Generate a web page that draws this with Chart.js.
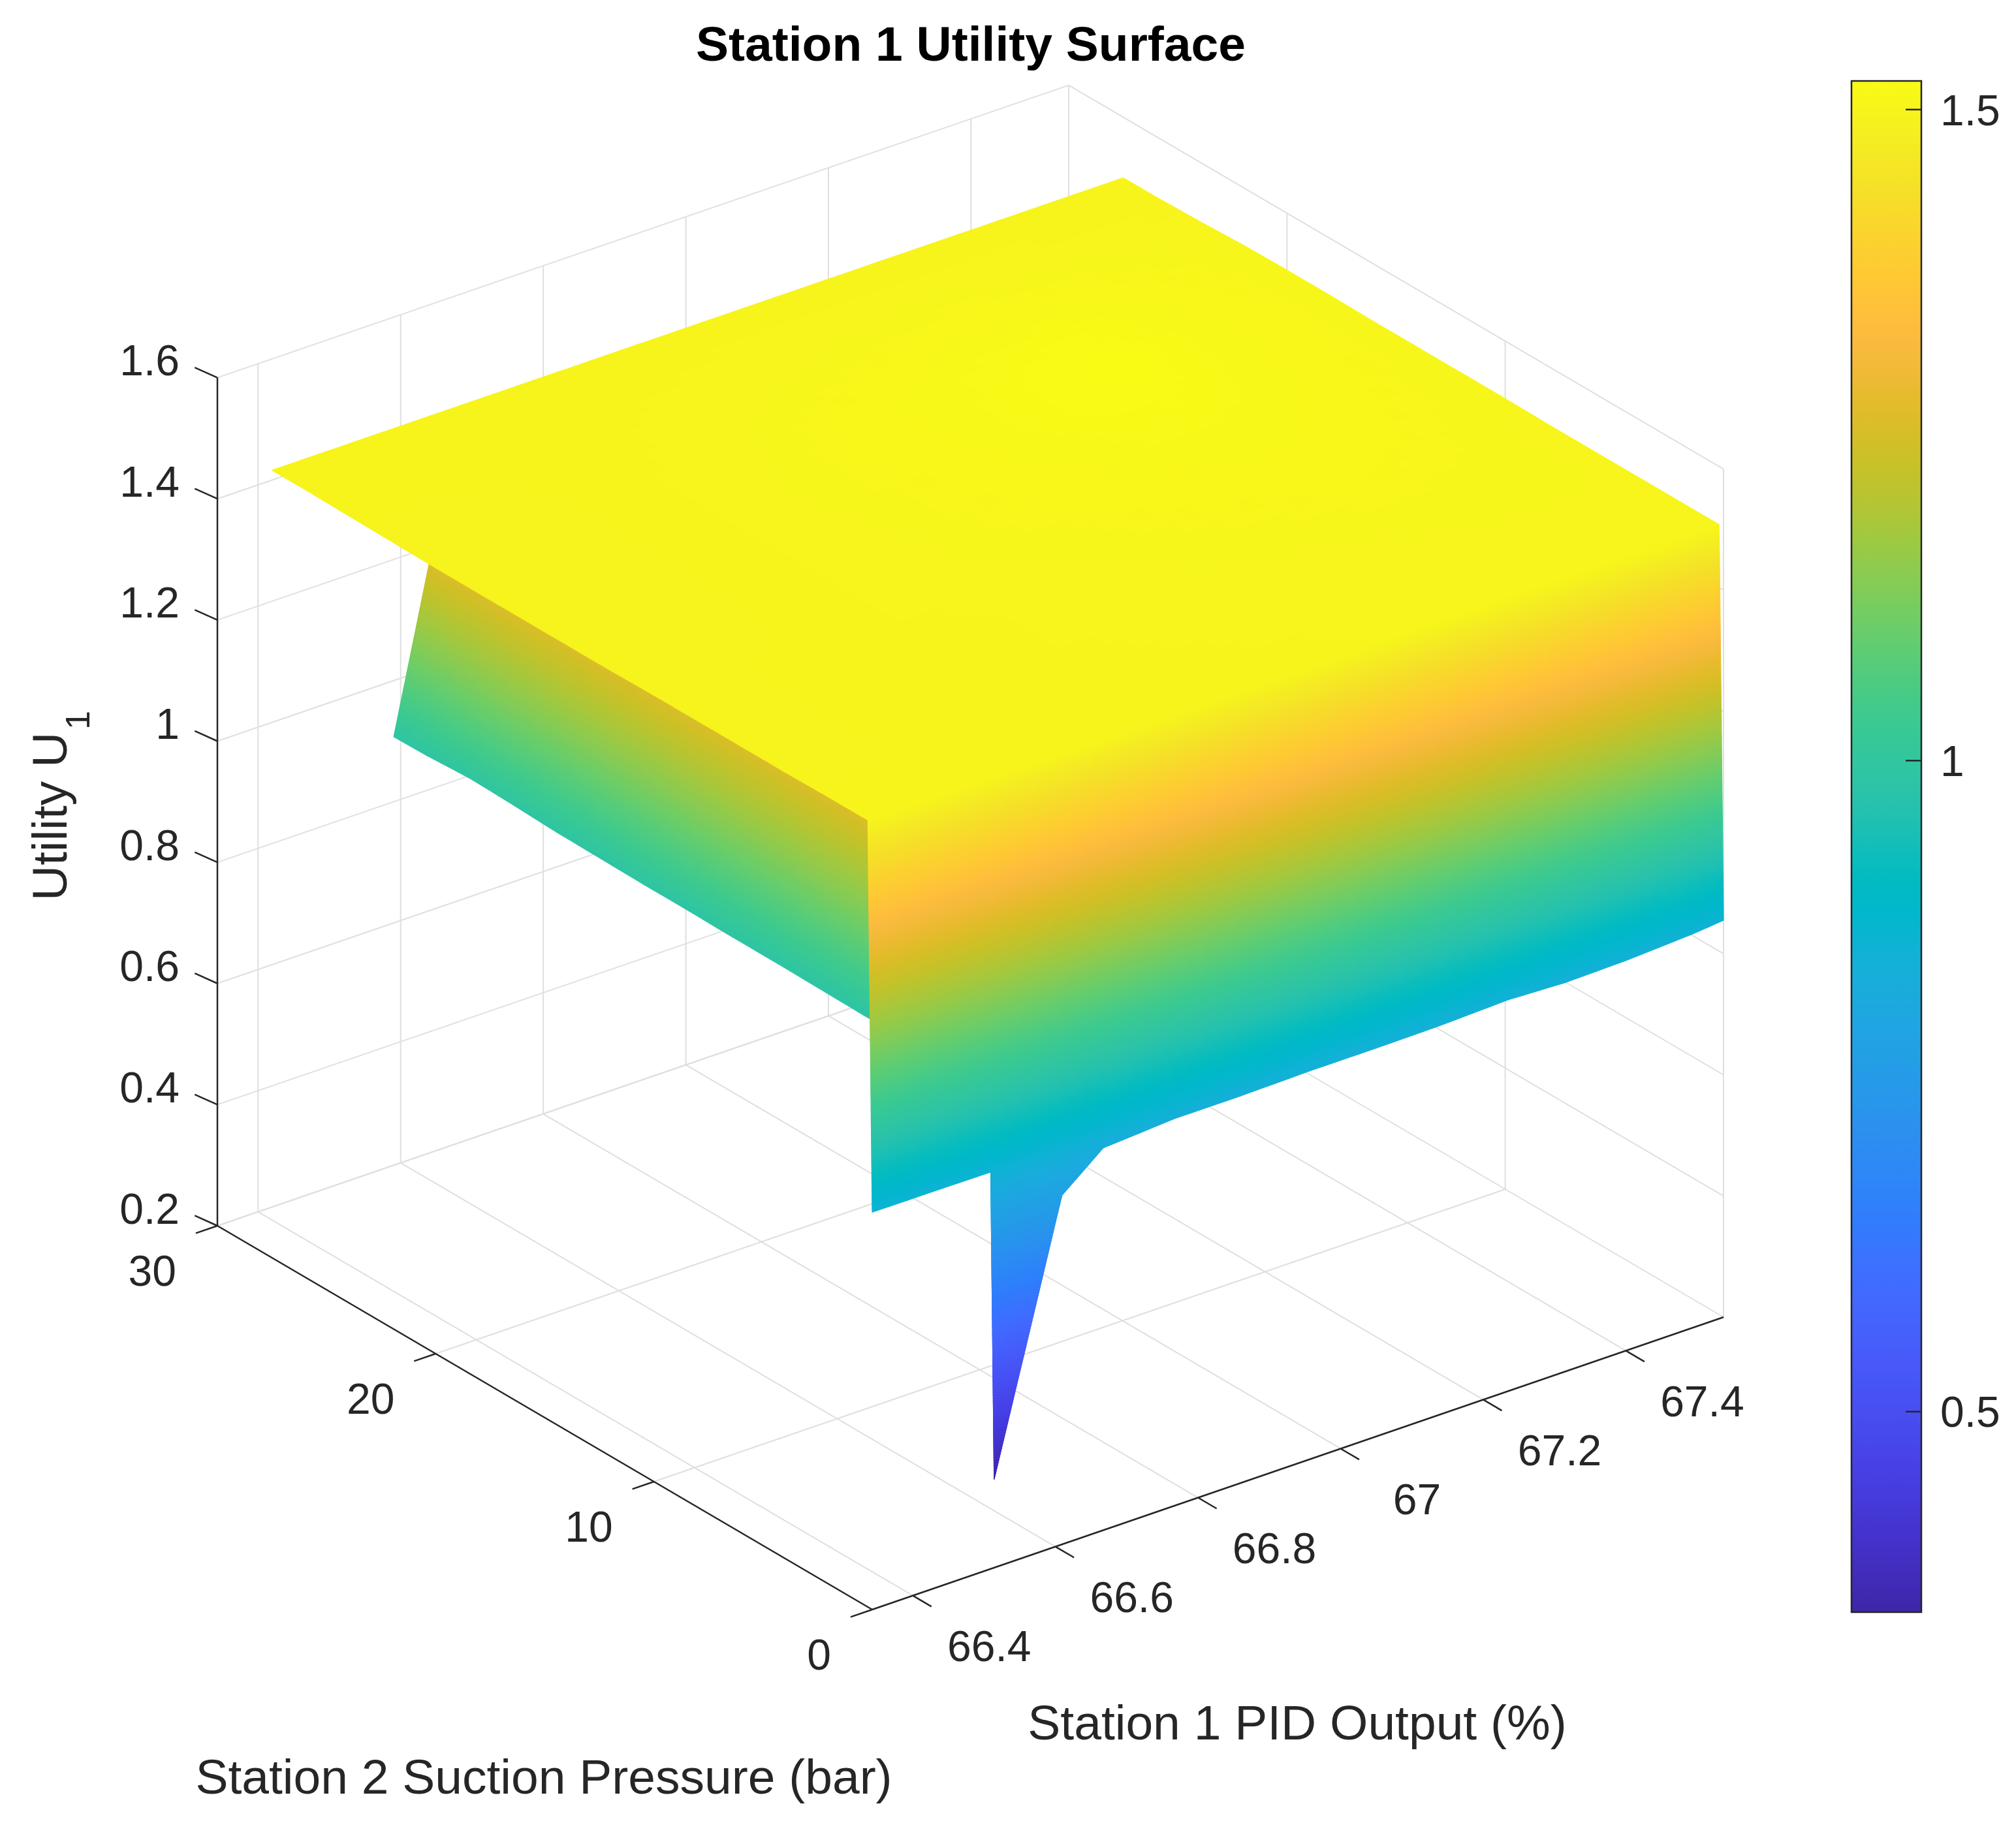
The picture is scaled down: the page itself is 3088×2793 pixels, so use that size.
<!DOCTYPE html>
<html>
<head>
<meta charset="utf-8">
<title>Station 1 Utility Surface</title>
<script src="https://cdn.jsdelivr.net/npm/chart.js@4.4.1/dist/chart.umd.min.js"></script>
<style>
  html, body { margin: 0; padding: 0; background: #ffffff; }
  #chart { display: block; }
</style>
</head>
<body>
<canvas id="chart" width="3088" height="2793"></canvas>
<script>
// PID columns are kept in the order the run produced them (not sorted),
// which is why the sheet folds back on itself near 66.5 %.
const pidOutput = [66.343, 66.514, 66.609, 66.514, 66.609, 66.667, 66.768, 66.86, 66.958, 67.05, 67.137, 67.235, 67.316, 67.40, 67.492, 67.537];
const suctionPressure = [0, 0.2, 2, 4, 6, 8, 10, 12, 14, 16, 18, 20, 22, 24, 26, 27.5];
const utility = [
  [0.856, 0.855, 0.776, 0.346, 0.776, 0.831, 0.839, 0.839, 0.841, 0.841, 0.842, 0.846, 0.842, 0.844, 0.850, 0.855],
  [1.499, 1.499, 1.500, 0.990, 1.500, 1.500, 1.500, 1.501, 1.501, 1.502, 1.502, 1.503, 1.503, 1.503, 1.504, 1.504],
  [1.499, 1.499, 1.500, 0.988, 1.500, 1.500, 1.501, 1.501, 1.502, 1.502, 1.503, 1.503, 1.504, 1.504, 1.504, 1.504],
  [1.498, 1.499, 1.500, 0.987, 1.500, 1.501, 1.501, 1.502, 1.503, 1.503, 1.504, 1.504, 1.505, 1.505, 1.505, 1.504],
  [1.498, 1.499, 1.500, 0.986, 1.500, 1.501, 1.502, 1.503, 1.504, 1.505, 1.505, 1.506, 1.506, 1.506, 1.505, 1.504],
  [1.498, 1.499, 1.500, 0.987, 1.500, 1.501, 1.502, 1.504, 1.505, 1.506, 1.507, 1.508, 1.508, 1.507, 1.505, 1.504],
  [1.498, 1.499, 1.500, 0.988, 1.500, 1.502, 1.503, 1.505, 1.506, 1.508, 1.509, 1.510, 1.509, 1.508, 1.506, 1.505],
  [1.497, 1.498, 1.500, 0.988, 1.500, 1.502, 1.504, 1.506, 1.508, 1.510, 1.512, 1.513, 1.511, 1.509, 1.506, 1.505],
  [1.497, 1.498, 1.500, 0.989, 1.500, 1.502, 1.504, 1.507, 1.509, 1.512, 1.515, 1.516, 1.513, 1.510, 1.507, 1.505],
  [1.497, 1.498, 1.500, 0.989, 1.500, 1.502, 1.505, 1.507, 1.510, 1.514, 1.518, 1.520, 1.515, 1.511, 1.507, 1.505],
  [1.497, 1.498, 1.500, 0.990, 1.500, 1.502, 1.505, 1.508, 1.511, 1.515, 1.519, 1.522, 1.516, 1.511, 1.507, 1.506],
  [1.497, 1.498, 1.500, 0.991, 1.500, 1.502, 1.504, 1.507, 1.510, 1.513, 1.516, 1.518, 1.514, 1.510, 1.507, 1.506],
  [1.498, 1.498, 1.500, 0.994, 1.500, 1.501, 1.503, 1.505, 1.507, 1.509, 1.511, 1.512, 1.510, 1.508, 1.506, 1.505],
  [1.499, 1.499, 1.500, 0.996, 1.500, 1.501, 1.502, 1.503, 1.504, 1.505, 1.506, 1.506, 1.505, 1.504, 1.503, 1.502],
  [1.500, 1.500, 1.500, 0.992, 1.500, 1.500, 1.501, 1.501, 1.502, 1.502, 1.502, 1.502, 1.502, 1.501, 1.501, 1.500],
  [1.500, 1.500, 1.500, 0.991, 1.500, 1.500, 1.500, 1.500, 1.500, 1.500, 1.500, 1.500, 1.500, 1.500, 1.500, 1.500]
];

const pidTicks = [66.4, 66.6, 66.8, 67, 67.2, 67.4];
const pressureTicks = [0, 10, 20, 30];
const utilityTicks = [0.2, 0.4, 0.6, 0.8, 1, 1.2, 1.4, 1.6];
const colorbarTicks = [0.5, 1, 1.5];

// MATLAB parula, 64 entries
const parula = [
  [0.2422,0.1504,0.6603],[0.2504,0.1650,0.7076],[0.2578,0.1818,0.7511],[0.2647,0.1978,0.7952],
  [0.2706,0.2147,0.8364],[0.2751,0.2342,0.8710],[0.2783,0.2559,0.8991],[0.2803,0.2782,0.9221],
  [0.2813,0.3006,0.9414],[0.2810,0.3228,0.9579],[0.2795,0.3447,0.9717],[0.2760,0.3667,0.9829],
  [0.2699,0.3892,0.9906],[0.2602,0.4123,0.9952],[0.2440,0.4358,0.9988],[0.2206,0.4603,0.9973],
  [0.1963,0.4847,0.9892],[0.1834,0.5074,0.9798],[0.1786,0.5289,0.9682],[0.1764,0.5499,0.9520],
  [0.1687,0.5703,0.9359],[0.1540,0.5902,0.9218],[0.1460,0.6091,0.9079],[0.1380,0.6276,0.8973],
  [0.1248,0.6459,0.8883],[0.1113,0.6635,0.8763],[0.0952,0.6798,0.8598],[0.0689,0.6948,0.8394],
  [0.0297,0.7082,0.8163],[0.0036,0.7203,0.7917],[0.0067,0.7312,0.7660],[0.0433,0.7411,0.7394],
  [0.0964,0.7500,0.7120],[0.1408,0.7584,0.6842],[0.1717,0.7670,0.6554],[0.1938,0.7758,0.6251],
  [0.2161,0.7843,0.5923],[0.2470,0.7918,0.5567],[0.2906,0.7973,0.5188],[0.3406,0.8008,0.4789],
  [0.3909,0.8029,0.4354],[0.4456,0.8024,0.3909],[0.5044,0.7993,0.3480],[0.5616,0.7942,0.3045],
  [0.6174,0.7876,0.2612],[0.6720,0.7793,0.2227],[0.7242,0.7698,0.1910],[0.7738,0.7598,0.1646],
  [0.8203,0.7498,0.1535],[0.8634,0.7406,0.1596],[0.9035,0.7330,0.1774],[0.9393,0.7288,0.2100],
  [0.9728,0.7298,0.2394],[0.9956,0.7434,0.2371],[0.9970,0.7659,0.2199],[0.9952,0.7893,0.2028],
  [0.9892,0.8136,0.1885],[0.9786,0.8386,0.1766],[0.9676,0.8639,0.1643],[0.9610,0.8890,0.1537],
  [0.9597,0.9135,0.1423],[0.9628,0.9373,0.1265],[0.9691,0.9606,0.1064],[0.9769,0.9839,0.0805]
];

const FONT = '"Liberation Sans", Arial, Helvetica, sans-serif';
const axisColor = '#262626';
const gridColor = 'rgb(223,223,223)';

const xLim = [Math.min(...pidOutput), Math.max(...pidOutput)];
const yLim = [pressureTicks[0], pressureTicks[pressureTicks.length - 1]];
const zLim = [utilityTicks[0], utilityTicks[utilityTicks.length - 1]];
const cLim = [Math.min(...utility.flat()), Math.max(...utility.flat())];

// where the axes box sits on the page: front-bottom corner plus the three box edges,
// and the matching depth direction (bigger = further from the viewer)
const box = {
  x0: 1336, y0: 2466,
  ex: [1304, -448], ey: [-1003, -588], ez: [0, -1299.4],
  depth: [892, 1171, -652.6]
};

function normalise(p) {
  return [
    (p[0] - xLim[0]) / (xLim[1] - xLim[0]),
    (p[1] - yLim[0]) / (yLim[1] - yLim[0]),
    (p[2] - zLim[0]) / (zLim[1] - zLim[0])
  ];
}

function toPlane(p) {
  const [a, b, c] = normalise(p);
  return {
    x: box.x0 + a * box.ex[0] + b * box.ey[0] + c * box.ez[0],
    y: box.y0 + a * box.ex[1] + b * box.ey[1] + c * box.ez[1]
  };
}

function depthOf(p) {
  const [a, b, c] = normalise(p);
  return a * box.depth[0] + b * box.depth[1] + c * box.depth[2];
}

function parulaColor(t) {
  t = Math.min(1, Math.max(0, t));
  const f = t * (parula.length - 1);
  const i = Math.min(parula.length - 2, Math.floor(f));
  const w = f - i;
  const a = parula[i], b = parula[i + 1];
  const r = Math.round(255 * (a[0] + (b[0] - a[0]) * w));
  const g = Math.round(255 * (a[1] + (b[1] - a[1]) * w));
  const bl = Math.round(255 * (a[2] + (b[2] - a[2]) * w));
  return `rgb(${r},${g},${bl})`;
}

function unit(v) {
  const l = Math.hypot(v[0], v[1]);
  return [v[0] / l, v[1] / l];
}

function segment(p, q, color, width) {
  return {
    data: [toPlane(p), toPlane(q)],
    showLine: true, borderColor: color, borderWidth: width,
    pointRadius: 0, pointHoverRadius: 0, fill: false
  };
}

function tickMark(p, dir, len) {
  const a = toPlane(p);
  return {
    data: [a, { x: a.x + dir[0] * len, y: a.y + dir[1] * len }],
    showLine: true, borderColor: axisColor, borderWidth: 2.5,
    pointRadius: 0, pointHoverRadius: 0, fill: false
  };
}

const xTickDir = unit([-box.ey[0], -box.ey[1]]);
const yTickDir = unit([-box.ex[0], -box.ex[1]]);
const zTickDir = unit([-0.912, -0.41]);

const datasets = [];
// axis lines and ticks first so they sit on top of the grid
datasets.push(segment([xLim[0], yLim[0], zLim[0]], [xLim[1], yLim[0], zLim[0]], axisColor, 2.5));
datasets.push(segment([xLim[0], yLim[0], zLim[0]], [xLim[0], yLim[1], zLim[0]], axisColor, 2.5));
datasets.push(segment([xLim[0], yLim[1], zLim[0]], [xLim[0], yLim[1], zLim[1]], axisColor, 2.5));
pidTicks.forEach(t => datasets.push(tickMark([t, yLim[0], zLim[0]], xTickDir, 33)));
pressureTicks.forEach(t => datasets.push(tickMark([xLim[0], t, zLim[0]], yTickDir, 35)));
utilityTicks.forEach(t => datasets.push(tickMark([xLim[0], yLim[1], t], zTickDir, 38)));

// grid on the floor and the two back walls
pidTicks.forEach(t => {
  datasets.push(segment([t, yLim[0], zLim[0]], [t, yLim[1], zLim[0]], gridColor, 2));
  datasets.push(segment([t, yLim[1], zLim[0]], [t, yLim[1], zLim[1]], gridColor, 2));
});
pressureTicks.forEach(t => {
  datasets.push(segment([xLim[0], t, zLim[0]], [xLim[1], t, zLim[0]], gridColor, 2));
  datasets.push(segment([xLim[1], t, zLim[0]], [xLim[1], t, zLim[1]], gridColor, 2));
});
utilityTicks.forEach(t => {
  datasets.push(segment([xLim[0], yLim[1], t], [xLim[1], yLim[1], t], gridColor, 2));
  datasets.push(segment([xLim[1], yLim[0], t], [xLim[1], yLim[1], t], gridColor, 2));
});

const surfacePlugin = {
  id: 'utilitySurface',
  afterDatasetsDraw(chart) {
    const { ctx } = chart;
    const sx = chart.scales.x, sy = chart.scales.y;
    const toPx = p => { const q = toPlane(p); return [sx.getPixelForValue(q.x), sy.getPixelForValue(q.y)]; };
    const folded = pidOutput.map((v, k) => k > 0 && v < pidOutput[k - 1]);
    const patches = [];

    for (let i = 0; i < suctionPressure.length - 1; i++) {
      for (let j = 0; j < pidOutput.length - 1; j++) {
        const c = [
          [pidOutput[j], suctionPressure[i], utility[i][j]],
          [pidOutput[j + 1], suctionPressure[i], utility[i][j + 1]],
          [pidOutput[j + 1], suctionPressure[i + 1], utility[i + 1][j + 1]],
          [pidOutput[j], suctionPressure[i + 1], utility[i + 1][j]]
        ];
        const s = c.map(toPx);
        const lenU = Math.max(Math.hypot(s[1][0] - s[0][0], s[1][1] - s[0][1]), Math.hypot(s[2][0] - s[3][0], s[2][1] - s[3][1]));
        const lenV = Math.max(Math.hypot(s[3][0] - s[0][0], s[3][1] - s[0][1]), Math.hypot(s[2][0] - s[1][0], s[2][1] - s[1][1]));
        const dzU = Math.max(Math.abs(c[1][2] - c[0][2]), Math.abs(c[2][2] - c[3][2]));
        const dzV = Math.max(Math.abs(c[3][2] - c[0][2]), Math.abs(c[2][2] - c[1][2]));
        const nu = Math.max(1, Math.ceil(lenU / 30), Math.ceil(dzU / 0.005));
        const nv = Math.max(1, Math.ceil(lenV / 30), Math.ceil(dzV / 0.005));
        // the folded-back column hangs under the rest of the sheet
        const under = folded[j] || folded[j + 1];

        const pts = [];
        for (let b = 0; b <= nv; b++) {
          const row = [];
          for (let a = 0; a <= nu; a++) {
            const u = a / nu, v = b / nv;
            const p = [0, 1, 2].map(k =>
              (1 - u) * (1 - v) * c[0][k] + u * (1 - v) * c[1][k] + u * v * c[2][k] + (1 - u) * v * c[3][k]);
            row.push({ s: toPx(p), z: p[2], d: depthOf(p) });
          }
          pts.push(row);
        }
        for (let b = 0; b < nv; b++) {
          for (let a = 0; a < nu; a++) {
            const q = [pts[b][a], pts[b][a + 1], pts[b + 1][a + 1], pts[b + 1][a]];
            patches.push({
              pts: q.map(o => o.s),
              z: (q[0].z + q[1].z + q[2].z + q[3].z) / 4,
              d: (q[0].d + q[1].d + q[2].d + q[3].d) / 4 + (under ? 1e6 : 0)
            });
          }
        }
      }
    }

    patches.sort((a, b) => b.d - a.d);
    ctx.save();
    ctx.lineWidth = 1.2;
    ctx.lineJoin = 'round';
    for (const p of patches) {
      const col = parulaColor((p.z - cLim[0]) / (cLim[1] - cLim[0]));
      ctx.fillStyle = col;
      ctx.strokeStyle = col;
      ctx.beginPath();
      ctx.moveTo(p.pts[0][0], p.pts[0][1]);
      for (let k = 1; k < 4; k++) ctx.lineTo(p.pts[k][0], p.pts[k][1]);
      ctx.closePath();
      ctx.fill();
      ctx.stroke();
    }
    ctx.restore();
  }
};

function centeredText(ctx, text, x, cy, size, align) {
  ctx.textAlign = align;
  ctx.textBaseline = 'alphabetic';
  ctx.fillText(text, x, cy + 0.358 * size);
}

const textPlugin = {
  id: 'labels3d',
  afterDraw(chart) {
    const { ctx } = chart;
    const sx = chart.scales.x, sy = chart.scales.y;
    const toPx = p => { const q = toPlane(p); return [sx.getPixelForValue(q.x), sy.getPixelForValue(q.y)]; };
    ctx.save();
    ctx.fillStyle = axisColor;
    ctx.font = `66px ${FONT}`;

    pidTicks.forEach(t => {
      const [x, y] = toPx([t, yLim[0], zLim[0]]);
      centeredText(ctx, String(t), x + 117, y + 77, 66, 'center');
    });
    pressureTicks.forEach(t => {
      const [x, y] = toPx([xLim[0], t, zLim[0]]);
      centeredText(ctx, String(t), x - 63, y + 68, 66, 'right');
    });
    utilityTicks.forEach(t => {
      const [x, y] = toPx([xLim[0], yLim[1], t]);
      centeredText(ctx, String(t), x - 58, y - 27, 66, 'right');
    });

    // axis titles
    ctx.font = `75px ${FONT}`;
    centeredText(ctx, 'Station 1 PID Output (%)', 1987, 2638, 75, 'center');
    centeredText(ctx, 'Station 2 Suction Pressure (bar)', 833, 2721, 75, 'center');

    ctx.save();
    ctx.translate(102, 1380);
    ctx.rotate(-Math.PI / 2);
    ctx.textAlign = 'left';
    ctx.textBaseline = 'alphabetic';
    ctx.font = `75px ${FONT}`;
    ctx.fillText('Utility U', 0, 0);
    const w = ctx.measureText('Utility U').width;
    ctx.font = `52px ${FONT}`;
    ctx.fillText('1', w + 4, 35);
    ctx.restore();

    // title
    ctx.fillStyle = '#000000';
    ctx.font = `bold 75px ${FONT}`;
    ctx.textAlign = 'center';
    ctx.textBaseline = 'alphabetic';
    ctx.fillText('Station 1 Utility Surface', 1487, 93);

    // colorbar
    const cb = { left: 2836, right: 2943, top: 124, bottom: 2470 };
    const valueY = v => cb.bottom - (v - cLim[0]) / (cLim[1] - cLim[0]) * (cb.bottom - cb.top);
    const grad = ctx.createLinearGradient(0, cb.bottom, 0, cb.top);
    parula.forEach((c, k) => grad.addColorStop(k / (parula.length - 1),
      `rgb(${Math.round(c[0] * 255)},${Math.round(c[1] * 255)},${Math.round(c[2] * 255)})`));
    ctx.fillStyle = grad;
    ctx.fillRect(cb.left, cb.top, cb.right - cb.left, cb.bottom - cb.top);
    ctx.strokeStyle = axisColor;
    ctx.lineWidth = 2.5;
    ctx.strokeRect(cb.left, cb.top, cb.right - cb.left, cb.bottom - cb.top);
    ctx.fillStyle = axisColor;
    ctx.font = `66px ${FONT}`;
    colorbarTicks.forEach(v => {
      const y = valueY(v);
      ctx.beginPath();
      ctx.moveTo(cb.right - 24, y);
      ctx.lineTo(cb.right, y);
      ctx.stroke();
      centeredText(ctx, String(v), 2972, y, 66, 'left');
    });
    ctx.restore();
  }
};

new Chart(document.getElementById('chart'), {
  type: 'scatter',
  data: { datasets },
  options: {
    responsive: false,
    animation: false,
    devicePixelRatio: 1,
    events: [],
    layout: { padding: 0 },
    plugins: {
      legend: { display: false },
      tooltip: { enabled: false },
      title: { display: false }
    },
    scales: {
      x: { type: 'linear', min: 0, max: 3088, display: false },
      y: { type: 'linear', min: 0, max: 2793, reverse: true, display: false }
    }
  },
  plugins: [surfacePlugin, textPlugin]
});
</script>
</body>
</html>
